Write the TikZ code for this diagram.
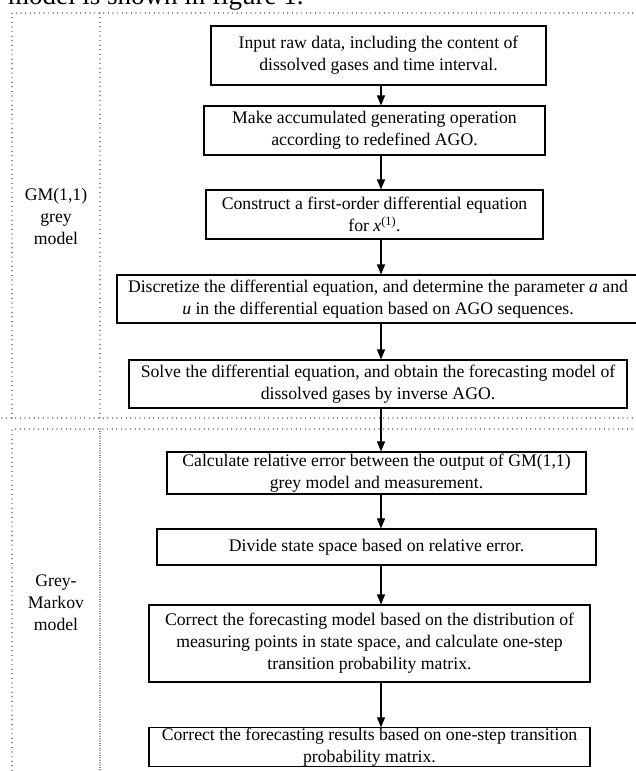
\documentclass[tikz,border=0pt]{standalone}
\usepackage{fontspec}
\setmainfont{Liberation Serif}
\usetikzlibrary{arrows.meta,positioning}

\begin{document}
\begin{tikzpicture}[
    x=1pt, y=-1pt,
    font=\fontsize{17.7}{22}\selectfont,
    stage/.style={draw, line width=1.1pt, align=center, inner sep=0pt},
    side/.style={align=center, inner sep=0pt},
    frame/.style={line width=1.2pt, line cap=round, dash pattern=on 0pt off 4.6pt},
    denseframe/.style={frame, dash pattern=on 0pt off 2.4pt},
    arrow/.style={-{Triangle[length=10pt, width=8pt]}, line width=1.1pt}
]
\useasboundingbox (0,0) rectangle (636,771);
\clip (0,0) rectangle (636,771);

% sentence above the figure, cut off by the page
\node[anchor=base west, inner sep=0pt, font=\fontsize{27}{30}\selectfont] (lead) at (8,5) {model is shown in figure 1.};

% dotted frames of the two parts
\draw[frame] (12,418) -- (12,13) -- (640,13);
\draw[frame] (100,13) -- (100,418);
\draw[frame] (2,418) -- (640,418);
\draw[frame] (12,775) -- (12,429) -- (640,429);
\draw[denseframe] (100,429) -- (100,775);

\node[side] (gmlabel) at (56,216) {GM(1,1)\\grey\\model};
\node[side] (gmklabel) at (56,603) {Grey-\\Markov\\model};

% flow steps
\node[stage, minimum width=335pt, minimum height=59pt] (input) at (378.5,55.5) {Input raw data, including the content of\\dissolved gases and time interval.};
\node[stage, minimum width=341pt, minimum height=49pt] (ago) at (374.5,130.5) {Make accumulated generating operation\\according to redefined AGO.};
\node[stage, minimum width=337pt, minimum height=49pt] (ode) at (374.5,214.5) {Construct a first-order differential equation\\for \textit{x}\textsuperscript{(1)}.};
\node[stage, minimum width=522pt, minimum height=48pt] (disc) at (378,299) {Discretize the differential equation, and determine the parameter \textit{a} and\\\textit{u} in the differential equation based on AGO sequences.};
\node[stage, minimum width=498pt, minimum height=48pt] (solve) at (378,384) {Solve the differential equation, and obtain the forecasting model of\\dissolved gases by inverse AGO.};
\node[stage, minimum width=419pt, minimum height=42pt] (err) at (376.5,473) {Calculate relative error between the output of GM(1,1)\\grey model and measurement.};
\node[stage, minimum width=439pt, minimum height=36pt] (state) at (376.5,547) {Divide state space based on relative error.};
\node[stage, minimum width=441pt, minimum height=77pt] (markov) at (369.5,643.5) {Correct the forecasting model based on the distribution of\\measuring points in state space, and calculate one-step\\transition probability matrix.};
\node[stage, minimum width=441pt, minimum height=36pt] (result) at (369.5,747) {Correct the forecasting results based on one-step transition\\probability matrix.};

\coordinate (spine) at (381,0);
\draw[arrow] (input.south -| spine) -- (ago.north -| spine);
\draw[arrow] (ago.south -| spine) -- (ode.north -| spine);
\draw[arrow] (ode.south -| spine) -- (disc.north -| spine);
\draw[arrow] (disc.south -| spine) -- (solve.north -| spine);
\draw[arrow] (solve.south -| spine) -- (err.north -| spine);
\draw[arrow] (err.south -| spine) -- (state.north -| spine);
\draw[arrow] (state.south -| spine) -- (markov.north -| spine);
\draw[arrow] (markov.south -| spine) -- (result.north -| spine);
\end{tikzpicture}
\end{document}
